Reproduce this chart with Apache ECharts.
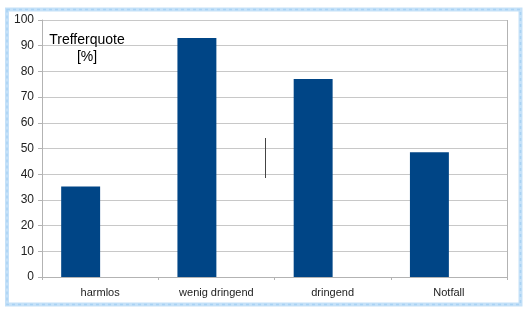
<!DOCTYPE html>
<html>
<head>
<meta charset="utf-8">
<script src="https://cdn.jsdelivr.net/npm/echarts@6/dist/echarts.min.js"></script>
<style>html,body{margin:0;padding:0;background:#fff}#c{width:532px;height:315px}</style>
</head>
<body>
<div id="c"></div>
<script>
const categories = ['harmlos', 'wenig dringend', 'dringend', 'Notfall'];
const trefferquote = [35.2, 93, 77, 48.5];
const secondSeries = [null, null, null, null];
const yTicks = [0, 10, 20, 30, 40, 50, 60, 70, 80, 90, 100];

const chart = echarts.init(document.getElementById('c'), null, {renderer: 'canvas'});
chart.setOption({
  animation: false,
  backgroundColor: '#fff',
  textStyle: {fontFamily: 'Liberation Sans, Arial, sans-serif'},
  grid: {left: 42, right: 25, top: 20, bottom: 38, containLabel: false},
  xAxis: {
    type: 'category',
    data: categories,
    axisLine: {lineStyle: {color: '#b3b3b3'}},
    axisTick: {show: true, length: 3, lineStyle: {color: '#b3b3b3'}},
    axisLabel: {color: '#222', fontSize: 11, margin: 10},
    splitLine: {show: false}
  },
  yAxis: {
    type: 'value',
    min: yTicks[0],
    max: yTicks[yTicks.length - 1],
    interval: 10,
    axisLine: {show: true, lineStyle: {color: '#b3b3b3'}},
    axisTick: {show: true, length: 4, lineStyle: {color: '#b3b3b3'}},
    axisLabel: {color: '#222', fontSize: 12, margin: 8},
    splitLine: {lineStyle: {color: '#c8c8c8'}}
  },
  series: [
    {type: 'bar', data: trefferquote, barGap: '0%', barCategoryGap: '33%',
     itemStyle: {color: '#004586'}},
    {type: 'bar', data: secondSeries, itemStyle: {color: '#ff420e'}}
  ],
  graphic: [
    {type: 'line', z: 100, shape: {x1: 507.5, y1: 20, x2: 507.5, y2: 277}, style: {stroke: '#b3b3b3', lineWidth: 1}},
    {type: 'text', z: 100, x: 87, y: 32, style: {text: 'Trefferquote\n[%]', textAlign: 'center', fill: '#000', fontSize: 14, lineHeight: 17, fontFamily: 'Liberation Sans, Arial, sans-serif'}},
    {type: 'line', z: 100, shape: {x1: 265.5, y1: 138, x2: 265.5, y2: 178}, style: {stroke: '#444', lineWidth: 1}},
    {type: 'rect', z: 100, shape: {x: 7, y: 9.5, width: 513.5, height: 295}, style: {fill: 'none', stroke: '#c5e1f8', lineWidth: 4}},
    {type: 'rect', z: 101, shape: {x: 7, y: 9.5, width: 513.5, height: 295}, style: {fill: 'none', stroke: '#a9d2f3', lineWidth: 1.5, lineDash: [3, 3]}}
  ]
});
</script>
</body>
</html>
